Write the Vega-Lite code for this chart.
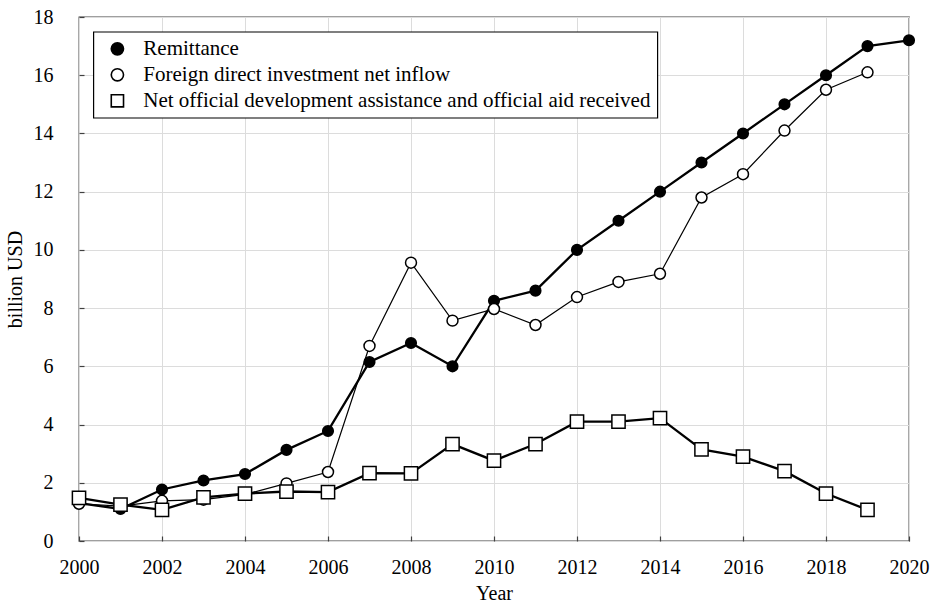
{
  "$schema": "https://vega.github.io/schema/vega-lite/v6.json",
  "autosize": {"type": "none"},
  "width": 830,
  "height": 524,
  "padding": {"left": 79, "top": 17, "right": 23, "bottom": 64},
  "background": "white",
  "data": {
    "values": [
      {"Year": 2000, "Remittance": 1.3, "FDI": 1.28, "ODA": 1.48},
      {"Year": 2001, "Remittance": 1.1, "FDI": 1.2, "ODA": 1.25},
      {"Year": 2002, "Remittance": 1.77, "FDI": 1.38, "ODA": 1.07},
      {"Year": 2003, "Remittance": 2.08, "FDI": 1.42, "ODA": 1.5},
      {"Year": 2004, "Remittance": 2.3, "FDI": 1.6, "ODA": 1.63},
      {"Year": 2005, "Remittance": 3.13, "FDI": 1.98, "ODA": 1.7},
      {"Year": 2006, "Remittance": 3.78, "FDI": 2.37, "ODA": 1.68},
      {"Year": 2007, "Remittance": 6.15, "FDI": 6.7, "ODA": 2.33},
      {"Year": 2008, "Remittance": 6.8, "FDI": 9.56, "ODA": 2.32},
      {"Year": 2009, "Remittance": 6.0, "FDI": 7.57, "ODA": 3.33},
      {"Year": 2010, "Remittance": 8.25, "FDI": 7.97, "ODA": 2.76},
      {"Year": 2011, "Remittance": 8.6, "FDI": 7.42, "ODA": 3.33},
      {"Year": 2012, "Remittance": 10.0, "FDI": 8.38, "ODA": 4.1},
      {"Year": 2013, "Remittance": 11.0, "FDI": 8.9, "ODA": 4.1},
      {"Year": 2014, "Remittance": 12.0, "FDI": 9.18, "ODA": 4.22},
      {"Year": 2015, "Remittance": 13.0, "FDI": 11.8, "ODA": 3.15},
      {"Year": 2016, "Remittance": 14.0, "FDI": 12.6, "ODA": 2.9},
      {"Year": 2017, "Remittance": 15.0, "FDI": 14.1, "ODA": 2.4},
      {"Year": 2018, "Remittance": 16.0, "FDI": 15.5, "ODA": 1.63},
      {"Year": 2019, "Remittance": 17.0, "FDI": 16.1, "ODA": 1.07},
      {"Year": 2020, "Remittance": 17.2, "FDI": null, "ODA": null}
    ]
  },
  "encoding": {
    "x": {
      "field": "Year", "type": "quantitative", "title": "Year",
      "scale": {"domain": [2000, 2020], "nice": false, "zero": false},
      "axis": {"values": [2000, 2002, 2004, 2006, 2008, 2010, 2012, 2014, 2016, 2018, 2020], "format": "d", "labelFlush": false, "labelPadding": 21, "titlePadding": 6}
    }
  },
  "layer": [
    {
      "mark": {"type": "line", "color": "black", "strokeWidth": 2.3},
      "encoding": {"y": {"field": "Remittance", "type": "quantitative", "title": "billion USD", "scale": {"domain": [0, 18], "nice": false}, "axis": {"values": [0, 2, 4, 6, 8, 10, 12, 14, 16, 18], "labelPadding": 31, "titlePadding": 8}}}
    },
    {
      "mark": {"type": "point", "shape": "circle", "filled": true, "fill": "black", "stroke": "black", "strokeWidth": 1.5, "size": 113, "opacity": 1},
      "encoding": {"y": {"field": "Remittance", "type": "quantitative", "title": "billion USD"}}
    },
    {
      "transform": [{"filter": "datum.FDI != null"}],
      "mark": {"type": "line", "color": "black", "strokeWidth": 1.2},
      "encoding": {"y": {"field": "FDI", "type": "quantitative", "title": "billion USD"}}
    },
    {
      "transform": [{"filter": "datum.FDI != null"}],
      "mark": {"type": "point", "shape": "circle", "filled": true, "fill": "white", "stroke": "black", "strokeWidth": 1.5, "size": 120, "opacity": 1},
      "encoding": {"y": {"field": "FDI", "type": "quantitative", "title": "billion USD"}}
    },
    {
      "transform": [{"filter": "datum.ODA != null"}],
      "mark": {"type": "line", "color": "black", "strokeWidth": 2.3},
      "encoding": {"y": {"field": "ODA", "type": "quantitative", "title": "billion USD"}}
    },
    {
      "transform": [{"filter": "datum.ODA != null"}],
      "mark": {"type": "point", "shape": "square", "filled": true, "fill": "white", "stroke": "black", "strokeWidth": 1.5, "size": 175, "opacity": 1},
      "encoding": {"y": {"field": "ODA", "type": "quantitative", "title": "billion USD"}}
    },
    {
      "transform": [{"filter": "false"}, {"calculate": "'x'", "as": "Series"}],
      "mark": {"type": "point", "filled": true, "strokeWidth": 1.6, "size": 150, "opacity": 1},
      "encoding": {
        "x": {"value": 0},
        "y": {"value": 0},
        "shape": {
          "field": "Series", "type": "nominal",
          "scale": {
            "domain": ["Remittance", "Foreign direct investment net inflow", "Net official development assistance and official aid received"],
            "range": ["circle", "circle", "square"]
          },
          "legend": {
            "title": null, "orient": "none", "legendX": 14.3, "legendY": 14.7,
            "padding": 6.6, "fillColor": "white", "strokeColor": "black",
            "labelFont": "Liberation Serif", "labelFontSize": 21, "labelColor": "black", "labelLimit": 0,
            "symbolSize": 150, "symbolStrokeWidth": 1.6,
            "symbolOffset": 7, "labelOffset": 15.4, "rowPadding": 4
          }
        },
        "fill": {
          "field": "Series", "type": "nominal",
          "scale": {
            "domain": ["Remittance", "Foreign direct investment net inflow", "Net official development assistance and official aid received"],
            "range": ["black", "white", "white"]
          },
          "legend": {
            "title": null, "orient": "none", "legendX": 14.3, "legendY": 14.7,
            "padding": 6.6, "fillColor": "white", "strokeColor": "black",
            "labelFont": "Liberation Serif", "labelFontSize": 21, "labelColor": "black", "labelLimit": 0,
            "symbolSize": 150, "symbolStrokeWidth": 1.6,
            "symbolOffset": 7, "labelOffset": 15.4, "rowPadding": 4
          }
        },
        "stroke": {
          "field": "Series", "type": "nominal",
          "scale": {
            "domain": ["Remittance", "Foreign direct investment net inflow", "Net official development assistance and official aid received"],
            "range": ["black", "black", "black"]
          },
          "legend": {
            "title": null, "orient": "none", "legendX": 14.3, "legendY": 14.7,
            "padding": 6.6, "fillColor": "white", "strokeColor": "black",
            "labelFont": "Liberation Serif", "labelFontSize": 21, "labelColor": "black", "labelLimit": 0,
            "symbolSize": 150, "symbolStrokeWidth": 1.6,
            "symbolOffset": 7, "labelOffset": 15.4, "rowPadding": 4
          }
        }
      }
    }
  ],
  "config": {
    "font": "Liberation Serif",
    "view": {"stroke": "#404040", "strokeWidth": 1.3},
    "legend": {"strokeWidth": 1.2},
    "axis": {
      "labelFont": "Liberation Serif", "labelFontSize": 20, "labelColor": "black",
      "titleFont": "Liberation Serif", "titleFontSize": 20, "titleFontWeight": "normal", "titleColor": "black",
      "gridColor": "#dcdcdc", "gridWidth": 1, "domain": false,
      "tickSize": -5, "tickColor": "#404040", "tickWidth": 1.2
    }
  }
}
